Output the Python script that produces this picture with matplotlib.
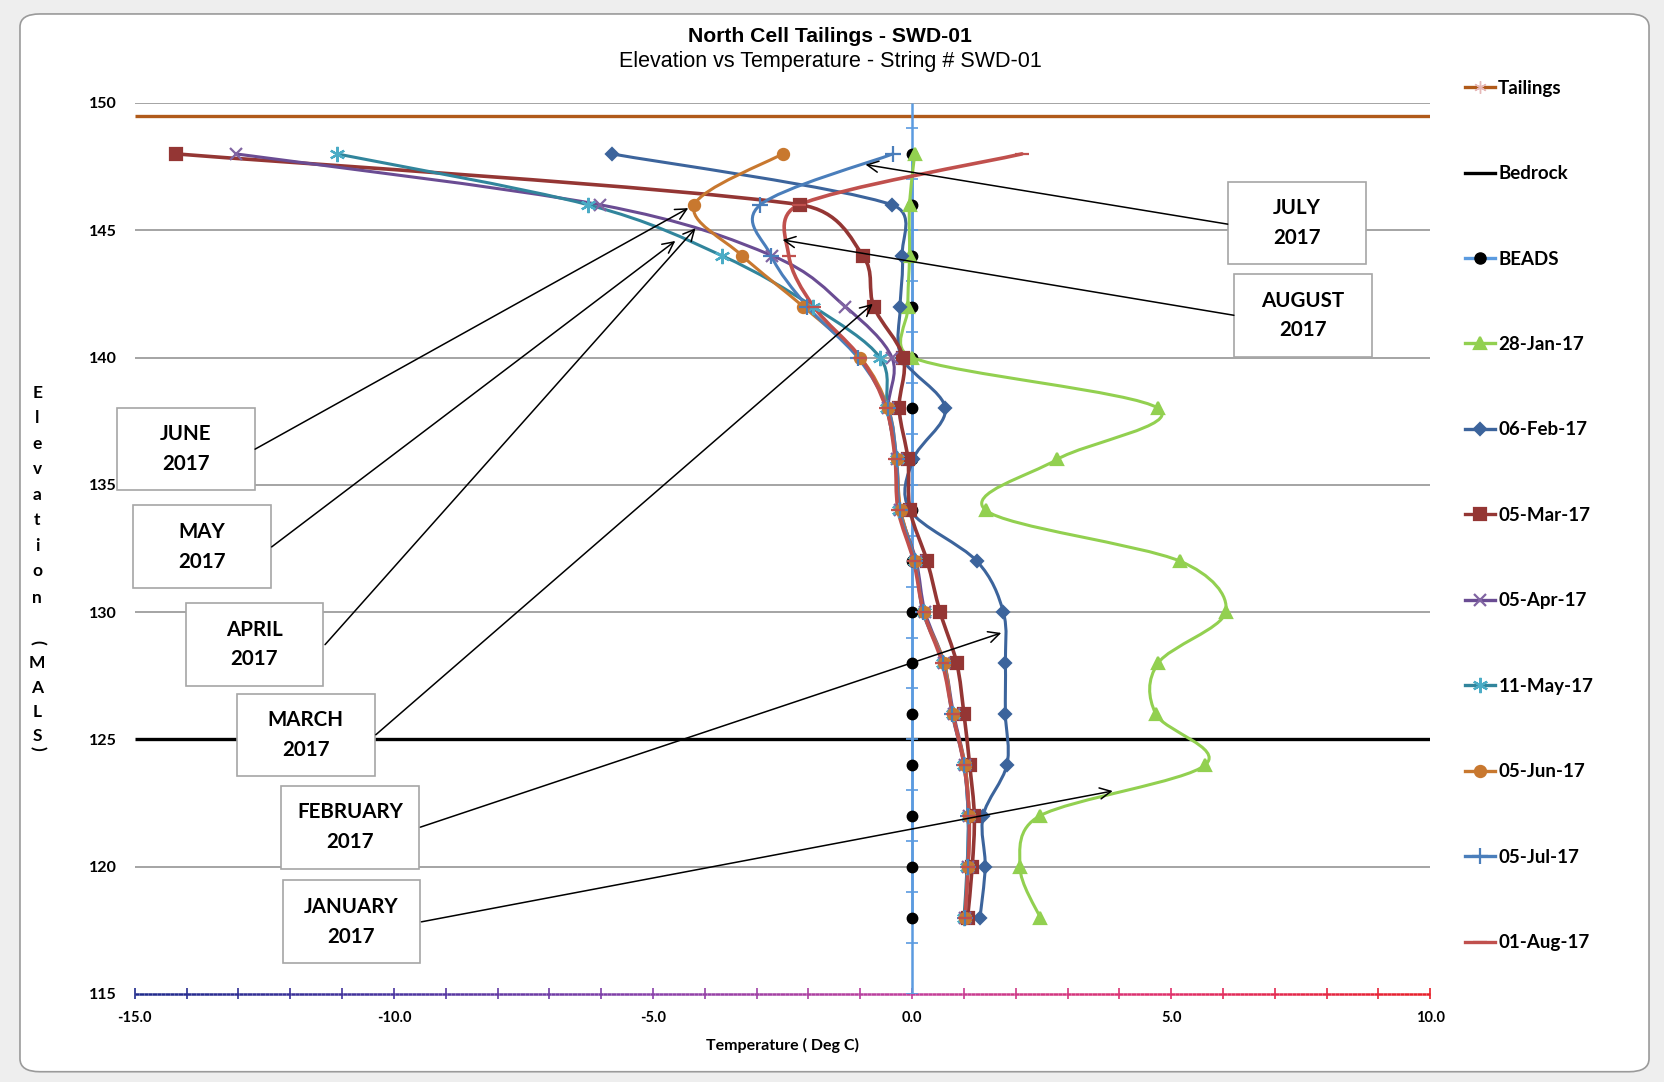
import numpy as np
import matplotlib
matplotlib.use('Agg')
import matplotlib.pyplot as plt
from matplotlib.path import Path
from matplotlib.patches import PathPatch, Rectangle, FancyBboxPatch
from matplotlib.lines import Line2D
from matplotlib.collections import LineCollection
from matplotlib.colors import LinearSegmentedColormap

plt.rcParams['axes.unicode_minus'] = False

# ---------------- data ----------------
elevation = [148, 146, 144, 142, 140, 138, 136, 134, 132, 130, 128, 126, 124, 122, 120, 118]

beads = [0.0, 0.0, 0.0, 0.0, 0.0, 0.0, 0.0, 0.0, 0.0, 0.0, 0.0, 0.0, 0.0, 0.0, 0.0, 0.0]
jan28 = [0.05, -0.05, -0.05, -0.08, 0.0, 4.75, 2.8, 1.42, 5.17, 6.05, 4.75, 4.7, 5.66, 2.47, 2.08, 2.47]
feb06 = [-5.79, -0.39, -0.19, -0.23, -0.2, 0.64, 0.02, -0.04, 1.25, 1.76, 1.8, 1.8, 1.83, 1.37, 1.41, 1.31]
mar05 = [-14.2, -2.16, -0.95, -0.74, -0.17, -0.25, -0.08, -0.04, 0.29, 0.54, 0.86, 1.0, 1.11, 1.2, 1.16, 1.07]
apr05 = [-13.05, -6.02, -2.7, -1.29, -0.39, -0.46, -0.3, -0.23, 0.08, 0.25, 0.62, 0.8, 1.02, 1.1, 1.08, 1.02]
may11 = [-11.1, -6.25, -3.67, -1.91, -0.62, -0.48, -0.3, -0.25, 0.05, 0.22, 0.6, 0.78, 1.0, 1.08, 1.06, 1.0]
jun05 = [-2.5, -4.2, -3.28, -2.1, -1.0, -0.46, -0.3, -0.22, 0.06, 0.22, 0.62, 0.78, 1.02, 1.1, 1.08, 1.02]
jul05 = [-0.37, -2.93, -2.72, -2.02, -1.05, -0.47, -0.3, -0.24, 0.06, 0.21, 0.6, 0.77, 1.0, 1.08, 1.07, 1.02]
aug01 = [2.12, -2.18, -2.38, -1.9, -1.0, -0.5, -0.33, -0.27, 0.03, 0.22, 0.58, 0.78, 1.0, 1.1, 1.08, 1.02]

tailings_elev = 149.5
bedrock_elev = 125.0

series_labels = ['28-Jan-17', '06-Feb-17', '05-Mar-17', '05-Apr-17', '11-May-17',
                 '05-Jun-17', '05-Jul-17', '01-Aug-17']
series_values = [jan28, feb06, mar05, apr05, may11, jun05, jul05, aug01]

# callout boxes: label, box left / top, arrow tail, arrow head
box_labels = ['JULY\n2017', 'AUGUST\n2017', 'JUNE\n2017', 'MAY\n2017',
              'APRIL\n2017', 'MARCH\n2017', 'FEBRUARY\n2017', 'JANUARY\n2017']
box_left = [6.09, 6.21, -15.35, -15.04, -14.02, -13.03, -12.17, -12.15]
box_top = [146.91, 143.28, 138.03, 134.19, 130.35, 126.8, 123.17, 119.46]
arrow_tail = [(6.09, 145.24), (6.21, 141.66), (-12.68, 136.4), (-12.36, 132.56),
              (-11.33, 128.72), (-10.35, 125.18), (-9.49, 121.55), (-9.47, 117.83)]
arrow_head = [(-0.9, 147.58), (-2.5, 144.62), (-4.32, 145.87), (-4.57, 144.58),
              (-4.18, 145.08), (-0.76, 142.11), (1.72, 129.18), (3.87, 122.97)]
box_w = 2.66
box_h = 3.25

# ---------------- styles ----------------
styles = [
    dict(color='#92D050', marker='^', ms=8, mfc='#92D050', mec='#92D050', lw=2.2),
    dict(color='#3C649C', marker='D', ms=6.5, mfc='#3C649C', mec='#3C649C', lw=2.2),
    dict(color='#943634', marker='s', ms=8.5, mfc='#943634', mec='#943634', lw=2.6),
    dict(color='#6A4C93', marker='x', ms=9, mfc='none', mec='#8064A2', lw=2.2),
    dict(color='#31859C', marker=(6, 2, 0), ms=11, mfc='none', mec='#4BACC6', lw=2.2),
    dict(color='#C8782F', marker='o', ms=8, mfc='#C8782F', mec='#C8782F', lw=2.2),
    dict(color='#4A7EBB', marker='+', ms=11, mfc='none', mec='#4A7EBB', lw=2.2),
    dict(color='#C0504D', marker='_', ms=10, mfc='#C0504D', mec='#C0504D', lw=2.6),
]


def smooth_path(ax, xs, ys, k=0.5):
    # Excel style smoothed line: cubic bezier through the points, built in screen space,
    # control arms limited to k * segment length so big jumps don't overshoot
    pts = ax.transData.transform(np.column_stack([xs, ys]).astype(float))
    n = len(pts)
    verts = [pts[0]]
    codes = [Path.MOVETO]
    for i in range(n - 1):
        p0 = pts[max(i - 1, 0)]
        p1 = pts[i]
        p2 = pts[i + 1]
        p3 = pts[min(i + 2, n - 1)]
        seg = np.hypot(*(p2 - p1))
        a = (p2 - p0) / 6.0
        b = (p3 - p1) / 6.0
        la, lb = np.hypot(*a), np.hypot(*b)
        if la > k * seg:
            a = a * k * seg / la
        if lb > k * seg:
            b = b * k * seg / lb
        verts += [p1 + a, p2 - b, p2]
        codes += [Path.CURVE4] * 3
    verts = ax.transData.inverted().transform(np.array(verts))
    return Path(verts, codes)


fig = plt.figure(figsize=(16.65, 10.82), dpi=100, facecolor='#EEEEEE')

# chart area frame
frame = FancyBboxPatch((0.012, 0.0095), 0.9784, 0.9776, boxstyle='round,pad=0,rounding_size=0.012',
                       transform=fig.transFigure, facecolor='white', edgecolor='#9A9A9A', lw=1.2,
                       zorder=-5)
fig.patches.append(frame)

ax = fig.add_axes([0.08099, 0.08145, 0.77806, 0.82336])
ax.set_facecolor('none')
ax.set_xlim(-15, 10)
ax.set_ylim(115, 150)
for s in ax.spines.values():
    s.set_visible(False)

# gridlines
ax.hlines([120, 130, 135, 140, 145, 150], -15, 10, color='#8C8C8C', lw=1.1, zorder=1)

# tailings and bedrock
ax.hlines(tailings_elev, -15, 10, color='#B05A1A', lw=2.4, zorder=2)
ax.hlines(bedrock_elev, -15, 10, color='black', lw=2.4, zorder=2)

# bottom axis with colour gradient
cmap = LinearSegmentedColormap.from_list('ax', ['#1F2A8C', '#4B35A0', '#8A42AA', '#C2409C',
                                                '#E0306A', '#E8202A'])
xg = np.linspace(-15, 10, 300)
segs = [[(xg[i], 115), (xg[i + 1], 115)] for i in range(len(xg) - 1)]
lc = LineCollection(segs, colors=cmap(np.linspace(0, 1, len(segs))), lw=1.8, clip_on=False, zorder=3)
ax.add_collection(lc)
xt = np.arange(-15, 11)
tick_segs = [[(v, 114.78), (v, 115.22)] for v in xt]
ax.add_collection(LineCollection(tick_segs, colors=cmap((xt + 15) / 25.0), lw=1.2,
                                 clip_on=False, zorder=3))

# blue vertical axis at 0 with cross ticks
ax.vlines(0, 115, 150, color='#5B9BE0', lw=1.8, zorder=3)
yt = np.arange(115, 150, 2)
ax.hlines(yt, -0.12, 0.12, color='#5B9BE0', lw=1.2, zorder=3)

# beads
ax.plot(beads, elevation, color='#5B9BE0', lw=1.8, marker='o', ms=7.5, mfc='black', mec='black',
        zorder=4)

# temperature strings
for vals, st in zip(series_values, styles):
    patch = PathPatch(smooth_path(ax, vals, elevation), fill=False, edgecolor=st['color'],
                      lw=st['lw'], capstyle='round', joinstyle='round', zorder=5)
    ax.add_patch(patch)
    ax.plot(vals, elevation, ls='none', marker=st['marker'], ms=st['ms'], mfc=st['mfc'],
            mec=st['mec'], mew=1.6, zorder=6)

# callouts
for lab, x0, yt_, tail, head in zip(box_labels, box_left, box_top, arrow_tail, arrow_head):
    ax.add_patch(Rectangle((x0, yt_ - box_h), box_w, box_h, facecolor='white', edgecolor='#A6A6A6',
                           lw=1.2, clip_on=False, zorder=7))
    ax.text(x0 + box_w / 2, yt_ - box_h / 2, lab, ha='center', va='center', family='Lato',
            fontweight='bold', fontsize=14.8, linespacing=1.6, zorder=8, clip_on=False)
    ax.annotate('', xy=head, xytext=tail,
                arrowprops=dict(arrowstyle='->', color='black', lw=1.1, shrinkA=0, shrinkB=0,
                                mutation_scale=20), zorder=8)

# ticks and labels
ax.set_xticks(np.arange(-15, 11, 5))
ax.set_xticklabels(['%.1f' % v for v in np.arange(-15, 11, 5)])
ax.set_yticks(np.arange(115, 151, 5))
ax.tick_params(axis='both', length=0)
ax.tick_params(axis='x', pad=12)
ax.tick_params(axis='y', pad=13)
for t in ax.get_xticklabels():
    t.set_family('Lato')
    t.set_fontweight('bold')
    t.set_fontsize(10.5)
for t in ax.get_yticklabels():
    t.set_family('Lato')
    t.set_fontweight('bold')
    t.set_fontsize(11.5)

ax.set_xlabel('Temperature ( Deg C)', family='Lato', fontweight='bold', fontsize=11.5, labelpad=10)

# stacked y label
ylab_chars = ['E', 'l', 'e', 'v', 'a', 't', 'i', 'o', 'n', '(', 'M', 'A', 'L', 'S', ')']
ylab_pos = [370, 394, 418, 442, 466, 490, 514, 538, 563, 605, 624, 648, 671, 693, 705]
for ch, py in zip(ylab_chars, ylab_pos):
    rot = -90 if ch in '()' else 0
    fig.text(35 / 1568, 1 - py / 1019, ch, ha='center', va='center', family='Lato',
             fontweight='bold', fontsize=12.5, rotation=rot)

# titles
fig.text(0.4987, 1 - 34 / 1019, 'North Cell Tailings - SWD-01', ha='center', va='center',
         family='Liberation Sans', fontweight='bold', fontsize=15.2)
fig.text(0.4987, 1 - 58 / 1019, 'Elevation vs Temperature - String # SWD-01', ha='center',
         va='center', family='Liberation Sans', fontsize=15.5)

# legend
handles = [Line2D([], [], color='#B05A1A', lw=2.4, marker=(6, 2, 0), ms=9, mec='#E6B9B8'),
           Line2D([], [], color='black', lw=2.4),
           Line2D([], [], color='#5B9BE0', lw=2.4, marker='o', ms=8, mfc='black', mec='black')]
for st in styles:
    handles.append(Line2D([], [], color=st['color'], lw=2.4, marker=st['marker'], ms=st['ms'],
                          mfc=st['mfc'], mec=st['mec'], mew=1.6))
labels = ['Tailings', 'Bedrock', 'BEADS'] + series_labels
leg = fig.legend(handles, labels, loc='upper left', bbox_to_anchor=(0.8745, 0.935),
                 frameon=False, borderpad=0, handlelength=1.6, handletextpad=0.15,
                 labelspacing=3.65, prop=dict(family='Lato', weight='bold', size=13.5))

fig.savefig('out.png', dpi=100, facecolor=fig.get_facecolor())
